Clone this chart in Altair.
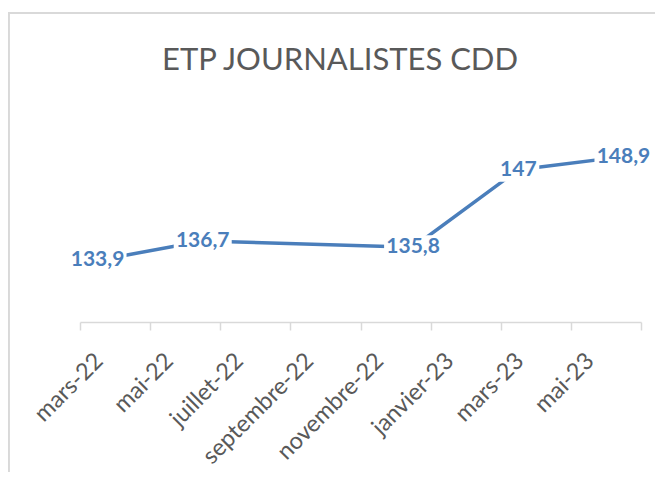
import altair as alt
import pandas as pd

# ---- data ----
months = ["2022-03", "2022-06", "2022-12", "2023-03", "2023-06"]
values = [133.9, 136.7, 135.8, 147.0, 148.9]
tick_labels = ["mars-22", "mai-22", "juillet-22", "septembre-22",
               "novembre-22", "janvier-23", "mars-23", "mai-23"]
title_text = "ETP JOURNALISTES CDD"

df = pd.DataFrame({"mois": months, "valeur": values})

BLUE = "#4a7ebb"
GREY = "#595959"
BORDER = "#d9d9d9"
W, H = 561, 173

label_arr = "[" + ",".join("'" + t + "'" for t in tick_labels) + "]"
tick_vals = [-0.5 + 2 * k for k in range(len(tick_labels) + 1)]

base = alt.Chart(df).transform_calculate(
    idx="(toNumber(substring(datum.mois,0,4)) - 2022) * 12 + toNumber(substring(datum.mois,5,7)) - 3",
    label="replace(toString(datum.valeur), '.', ',')",
).transform_calculate(
    bg="length(datum.label) > 3 ? 'long' : 'short'"
)

xenc = alt.X(
    "idx:Q",
    scale=alt.Scale(domain=[-0.5, 15.5], nice=False, zero=False),
    axis=alt.Axis(
        values=tick_vals,
        labelExpr="(" + label_arr + "[(datum.value + 0.5) / 2] || '')",
        title=None,
        grid=False,
        domainColor=BORDER,
        domainWidth=1.5,
        tickColor=BORDER,
        tickWidth=1.5,
        tickSize=8,
        labelAngle=315,
        labelAlign="right",
        labelBaseline="middle",
        labelOffset=19,
        labelPadding=27,
        labelFont="Lato",
        labelFontSize=23.5,
        labelColor=GREY,
        labelOverlap=False,
        labelFlush=False,
    ),
)
yenc = alt.Y("valeur:Q", scale=alt.Scale(domain=[125, 150], nice=False, zero=False), axis=None)

line = base.mark_line(color=BLUE, strokeWidth=3.5).encode(x=xenc, y=yenc)

p_long = "M-1.45,-0.6H1.45V0.6H-1.45Z"
p_short = "M-1.05,-0.6H1.05V0.6H-1.05Z"
bgs = base.mark_point(filled=True, color="white", opacity=1, strokeWidth=0, size=1600).encode(
    x=xenc, y=yenc,
    shape=alt.Shape("bg:N", scale=alt.Scale(domain=["long", "short"], range=[p_long, p_short]), legend=None),
)

labels = base.mark_text(
    font="Lato", fontSize=21, fontWeight="bold", color=BLUE,
    align="center", baseline="middle",
).encode(x=xenc, y=yenc, text="label:N")

title = alt.Chart(pd.DataFrame({"t": [title_text]})).mark_text(
    font="Lato", fontSize=31, fontWeight="normal", color=GREY,
    align="center", baseline="alphabetic",
).encode(x=alt.value(260), y=alt.value(-79), text="t:N")

border_left = alt.Chart(df).mark_rule(color=BORDER, strokeWidth=2).encode(
    x=alt.value(-71.5), y=alt.value(-136), y2=alt.value(H + 200)
)
border_top = alt.Chart(df).mark_rule(color=BORDER, strokeWidth=2).encode(
    x=alt.value(-72), x2=alt.value(W + 40), y=alt.value(-136)
)

chart = alt.layer(border_left, border_top, title, line, bgs, labels).properties(
    width=W, height=H,
    background="white",
    autosize=alt.AutoSizeParams(type="none"),
    padding={"left": 72, "top": 141, "right": 14, "bottom": 150},
).configure_view(strokeWidth=0)

chart.save("out.html", embed_options={"renderer": "svg", "actions": False})
